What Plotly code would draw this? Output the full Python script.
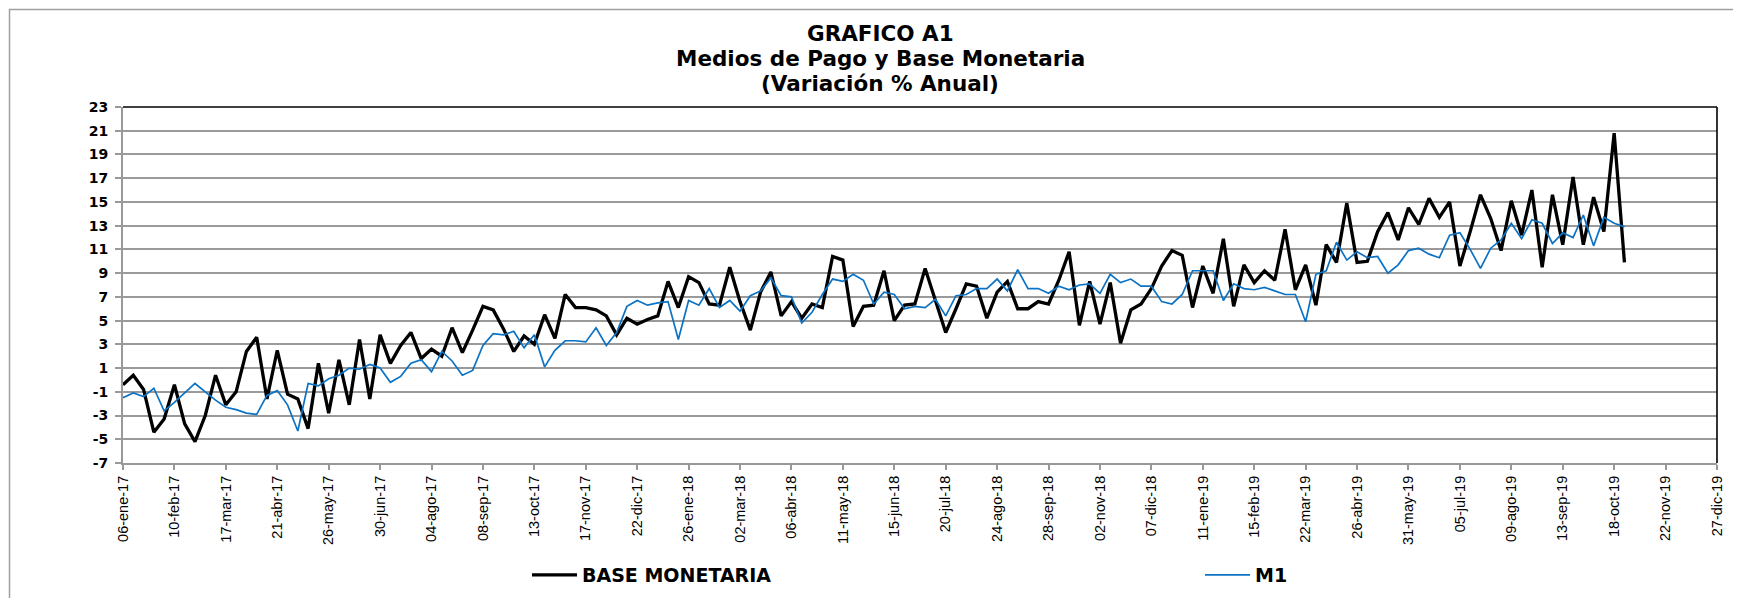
import pandas as pd
import plotly.graph_objects as go

# ---------------- data ----------------
start_date = "2017-01-06"
n_weeks = 147

base_monetaria = [
    -0.4, 0.4, -0.8, -4.4, -3.3, -0.4, -3.7, -5.2, -3.0, 0.4,
    -2.1, -1.0, 2.4, 3.6, -1.6, 2.5, -1.2, -1.6, -4.1, 1.4,
    -2.8, 1.7, -2.1, 3.4, -1.6, 3.8, 1.4, 2.9, 4.0, 1.8,
    2.6, 2.0, 4.4, 2.3, 4.2, 6.2, 5.9, 4.3, 2.4, 3.7,
    3.0, 5.5, 3.5, 7.2, 6.1, 6.1, 5.9, 5.4, 3.8, 5.2,
    4.7, 5.1, 5.4, 8.3, 6.1, 8.7, 8.2, 6.4, 6.3, 9.5,
    6.6, 4.2, 7.4, 9.1, 5.4, 6.6, 5.2, 6.4, 6.1, 10.4,
    10.1, 4.5, 6.2, 6.3, 9.2, 5.0, 6.3, 6.4, 9.4, 6.7,
    4.0, 6.0, 8.1, 7.9, 5.2, 7.4, 8.3, 6.0, 6.0, 6.6,
    6.4, 8.4, 10.8, 4.6, 8.3, 4.7, 8.2, 3.1, 5.9, 6.4,
    7.7, 9.6, 10.9, 10.5, 6.1, 9.6, 7.3, 11.9, 6.2, 9.7,
    8.2, 9.2, 8.4, 12.7, 7.6, 9.7, 6.3, 11.4, 9.9, 14.9,
    9.9, 10.0, 12.5, 14.1, 11.8, 14.5, 13.1, 15.3, 13.7, 15.0,
    9.6, 12.5, 15.6, 13.6, 10.9, 15.1, 12.2, 16.0, 9.5, 15.6,
    11.4, 17.1, 11.4, 15.4, 12.5, 20.8, 9.9,
]

m1 = [
    -1.5, -1.1, -1.4, -0.7, -2.6, -1.9, -1.1, -0.3, -1.0, -1.7,
    -2.3, -2.5, -2.8, -2.9, -1.3, -0.9, -2.1, -4.3, -0.3, -0.5,
    0.1, 0.4, 1.0, 0.9, 1.3, 1.0, -0.2, 0.3, 1.4, 1.7,
    0.7, 2.4, 1.6, 0.4, 0.8, 2.9, 3.9, 3.8, 4.1, 2.7,
    3.8, 1.1, 2.5, 3.3, 3.3, 3.2, 4.4, 2.9, 4.0, 6.2,
    6.7, 6.3, 6.5, 6.6, 3.4, 6.7, 6.3, 7.7, 6.1, 6.7,
    5.8, 7.1, 7.5, 8.6, 7.1, 7.0, 4.8, 5.7, 7.2, 8.5,
    8.3, 8.9, 8.4, 6.4, 7.4, 7.2, 6.0, 6.2, 6.1, 6.8,
    5.4, 7.1, 7.2, 7.7, 7.7, 8.5, 7.5, 9.3, 7.7, 7.7,
    7.3, 7.9, 7.6, 8.0, 8.1, 7.3, 8.9, 8.2, 8.5, 7.9,
    7.9, 6.6, 6.4, 7.2, 9.2, 9.2, 9.2, 6.7, 8.1, 7.7,
    7.6, 7.8, 7.5, 7.2, 7.2, 4.9, 8.9, 9.2, 11.6, 10.1,
    10.8, 10.3, 10.4, 9.0, 9.7, 10.9, 11.1, 10.6, 10.3, 12.2,
    12.4, 11.0, 9.4, 11.1, 11.8, 13.2, 11.9, 13.5, 13.2, 11.5,
    12.4, 12.0, 13.9, 11.3, 13.7, 13.2, 12.9,
]

tick_labels = [
    "06-ene-17", "10-feb-17", "17-mar-17", "21-abr-17", "26-may-17", "30-jun-17",
    "04-ago-17", "08-sep-17", "13-oct-17", "17-nov-17", "22-dic-17", "26-ene-18",
    "02-mar-18", "06-abr-18", "11-may-18", "15-jun-18", "20-jul-18", "24-ago-18",
    "28-sep-18", "02-nov-18", "07-dic-18", "11-ene-19", "15-feb-19", "22-mar-19",
    "26-abr-19", "31-may-19", "05-jul-19", "09-ago-19", "13-sep-19", "18-oct-19",
    "22-nov-19", "27-dic-19",
]

y_ticks = list(range(-7, 24, 2))

dates = pd.date_range(start_date, periods=n_weeks, freq="7D")
tick_dates = pd.date_range(start_date, periods=len(tick_labels), freq="35D")

# ---------------- figure geometry ----------------
# The page body has an 8px default margin, so the figure is made 8px smaller
# and all target positions (screen pixels) are shifted by that offset.
OFF = 8
SW, SH = 1741, 598                     # screen size
W, H = SW - OFF, SH - OFF              # figure size
PL, PR, PT, PB = 123, 1717, 107, 463   # plot area on screen
L, T = PL - OFF, PT - OFF
R, B = W - (PR - OFF), H - (PB - OFF)
pw, ph = W - L - R, H - T - B


def px(x):
    """screen x -> paper x"""
    return (x - OFF - L) / pw


def py(y):
    """screen y -> paper y"""
    return (H - B - (y - OFF)) / ph


FONT = "DejaVu Sans, Liberation Sans, Arial, sans-serif"
legend_font = dict(family=FONT, size=19, color="#000000", weight="bold")

fig = go.Figure()
fig.add_trace(go.Scatter(
    x=dates, y=base_monetaria, mode="lines", name="BASE MONETARIA",
    line=dict(color="#000000", width=3.3), legend="legend",
))
fig.add_trace(go.Scatter(
    x=dates, y=m1, mode="lines", name="M1",
    line=dict(color="#0b72c4", width=1.7), legend="legend2",
))

fig.update_layout(
    width=W, height=H,
    margin=dict(l=L, r=R, t=T, b=B, autoexpand=False),
    paper_bgcolor="white", plot_bgcolor="white",
    showlegend=True,
    legend=dict(
        orientation="h", x=px(527), y=py(575), xanchor="left", yanchor="middle",
        font=legend_font, itemwidth=45, bgcolor="rgba(0,0,0,0)",
    ),
    legend2=dict(
        orientation="h", x=px(1200), y=py(575), xanchor="left", yanchor="middle",
        font=legend_font, itemwidth=45, bgcolor="rgba(0,0,0,0)",
    ),
    xaxis=dict(
        type="date",
        range=[tick_dates[0], tick_dates[-1]],
        tickmode="array", tickvals=list(tick_dates), ticktext=tick_labels,
        tickangle=-90, automargin=False,
        tickfont=dict(family="Liberation Sans, Arial, sans-serif", size=14.5, color="#000000"),
        showgrid=False, zeroline=False,
        showline=True, linecolor="#999999", linewidth=2,
        ticks="outside", ticklen=5, tickcolor="#999999", tickwidth=1.5,
    ),
    yaxis=dict(
        range=[-7, 23], tickmode="array", tickvals=y_ticks,
        ticktext=[str(v) for v in y_ticks], automargin=False,
        tickfont=dict(family=FONT, size=14, color="#000000", weight="bold"),
        showgrid=True, gridcolor="#9a9a9a", gridwidth=1.7,
        zeroline=False,
        showline=True, linecolor="#999999", linewidth=2,
        ticks="outside", ticklen=6, tickcolor="#999999", tickwidth=1.5,
        ticklabelstandoff=4,
    ),
)

# plot-area border (top and right in black)
fig.add_shape(type="line", xref="paper", yref="paper", x0=0, x1=1, y0=1, y1=1,
              line=dict(color="#000000", width=1.6), layer="above")
fig.add_shape(type="line", xref="paper", yref="paper", x0=1, x1=1, y0=0, y1=1,
              line=dict(color="#000000", width=1.6), layer="above")

# outer chart frame
fig.add_shape(type="rect", xref="paper", yref="paper",
              x0=px(9.5), x1=px(1737), y0=py(9.5), y1=py(620),
              line=dict(color="#a0a0a0", width=1.5), layer="below")

# title (three centered lines)
title_lines = ["GRAFICO A1", "Medios de Pago y Base Monetaria", "(Variación % Anual)"]
title_y = [33, 58, 84]
for txt, yy in zip(title_lines, title_y):
    fig.add_annotation(
        text=txt, xref="paper", yref="paper", x=px(880), y=py(yy),
        xanchor="center", yanchor="middle", showarrow=False,
        font=dict(family=FONT, size=21.5, color="#000000", weight="bold"),
    )

fig.write_html("out.html")
